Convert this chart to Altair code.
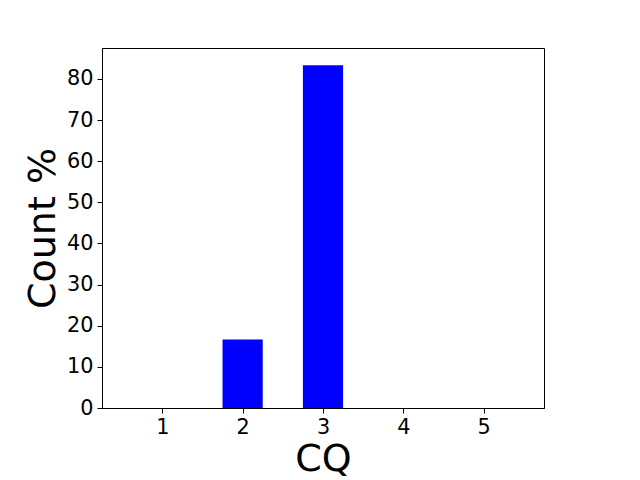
import altair as alt
import pandas as pd

cq = [1, 2, 3, 4, 5]
count_pct = [0.0, 16.67, 83.33, 0.0, 0.0]

df = pd.DataFrame({"CQ": cq, "pct": count_pct})

base = alt.Chart(df).transform_calculate(
    x0="datum.CQ - 0.25", x1="datum.CQ + 0.25", zero="0"
)

bars = base.mark_bar(color="#0000ff").encode(
    x=alt.X("x0:Q", scale=alt.Scale(domain=[0.25, 5.75], nice=False, zero=False, padding=0),
            axis=alt.Axis(values=cq, title="CQ", format="d", grid=False,
                          tickSize=5, tickColor="black", domainColor="black",
                          labelFontSize=20.8, labelColor="black", labelPadding=4,
                          titleFontSize=38, titleFontWeight="normal", titleColor="black",
                          titlePadding=4, labelFont="DejaVu Sans", titleFont="DejaVu Sans")),
    x2="x1:Q",
    y=alt.Y("pct:Q", scale=alt.Scale(domain=[0, 87.5], nice=False, padding=0),
            axis=alt.Axis(values=[0, 10, 20, 30, 40, 50, 60, 70, 80], title="Count %",
                          grid=False, tickSize=5, tickColor="black", domainColor="black",
                          labelFontSize=20.8, labelColor="black", labelPadding=4,
                          titleFontSize=38, titleFontWeight="normal", titleColor="black",
                          titlePadding=4, labelFont="DejaVu Sans", titleFont="DejaVu Sans")),
    y2="zero:Q",
)

chart = bars.properties(
    width=442, height=360,
    autosize=alt.AutoSizeParams(type="none"),
    padding={"left": 94, "top": 40, "right": 80, "bottom": 72},
).configure_view(stroke="black", strokeWidth=1)

chart.save("out.html", embed_options={"renderer": "svg", "actions": False})
